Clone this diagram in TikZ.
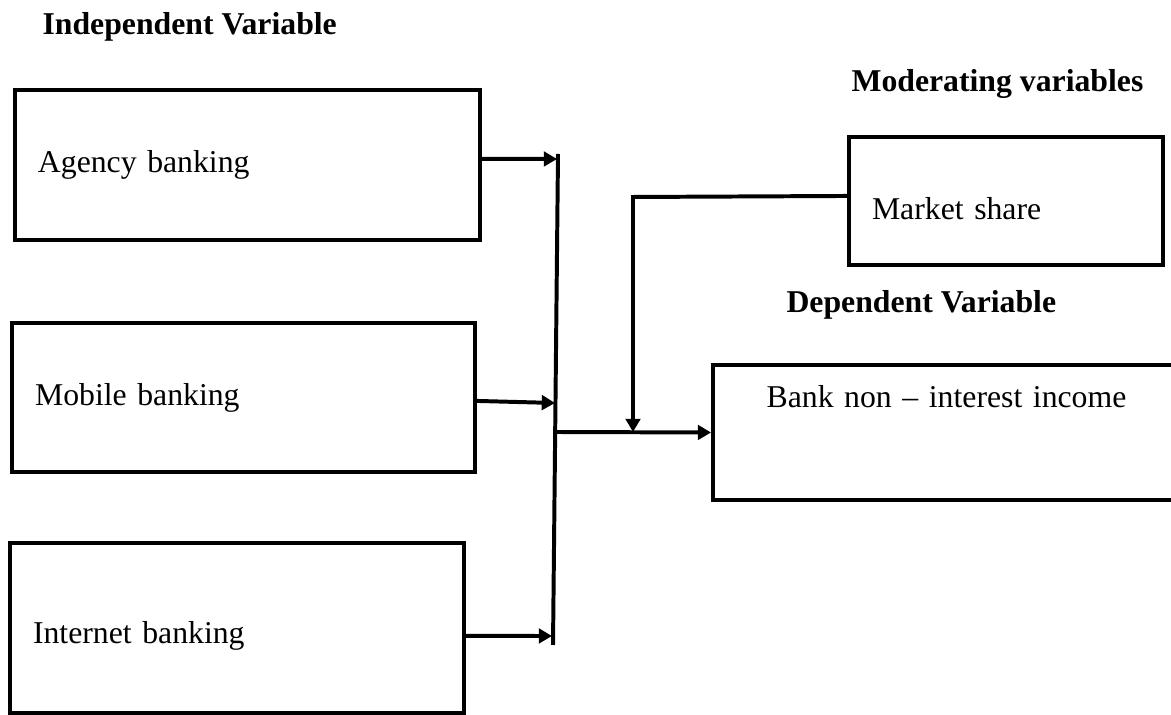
\documentclass[tikz,border=0pt]{standalone}
\usepackage{fontspec}
\setmainfont{Liberation Serif}
\usetikzlibrary{arrows.meta, positioning}

\begin{document}
\begin{tikzpicture}[
		x=0.378pt, y=-0.378pt,
		every node/.style={font=\fontsize{12}{14}\selectfont},
		box/.style={draw, rectangle, line width=1.5pt, align=left, inner xsep=8.7pt, inner ysep=0pt},
		title/.style={font=\fontsize{12}{14}\selectfont\bfseries, anchor=base west, inner sep=0pt},
		link/.style={line width=1.5pt},
		arr/.style={line width=1.5pt, -{Triangle[length=5pt, width=5.5pt]}}
		]
		\useasboundingbox (0,0) rectangle (1171,715);
		% headings
		\node[title] at (42,35) (indep) {Independent Variable};
		\node[title] at (851,92) (moder) {Moderating variables};
		\node[title] at (786,313) (dep) {Dependent Variable};
		
		% boxes
		\node[box, text width=158.4pt, minimum height=56.7pt] at (247.5,165) (agency) {Agency banking};
		\node[box, text width=157.6pt, minimum height=56.3pt] at (243.5,397.5) (mobile) {Mobile banking};
		\node[box, text width=154.2pt, minimum height=64.3pt, text height=14pt] at (237,628) (internet) {Internet banking};
		\node[box, text width=101.3pt, minimum height=48.4pt, text height=14pt] at (1006,201) (market) {Market share};
		\node[box, text width=159.1pt, minimum height=51pt, align=center, text height=9pt, text depth=28pt] at (946.5,432.5) (bank) {Bank non -- interest income};
		
		% collecting line
		\coordinate (bustop) at (558,154);
		\coordinate (busbot) at (553,645);
		\coordinate (jagency) at (557,159);
		\coordinate (jmobile) at (555,403);
		\coordinate (jinternet) at (552,636);
		\coordinate (jout) at (555,432);
		\coordinate (mcorner) at (633,197);
		\coordinate (mjoin) at (633,432);
		\draw[link] (bustop) -- (busbot);
		
		% arrows
		\draw[arr] ([yshift=2.3pt]agency.east) -- (jagency);
		\draw[arr] ([yshift=-1.3pt]mobile.east) -- (jmobile);
		\draw[arr] ([yshift=-3pt]internet.east) -- (jinternet);
		\draw[arr] (jout) -- (bank.west);
		\draw[arr] ([yshift=1.9pt]market.west) -- (mcorner) -- (mjoin);
		
	\end{tikzpicture}
\end{document}
